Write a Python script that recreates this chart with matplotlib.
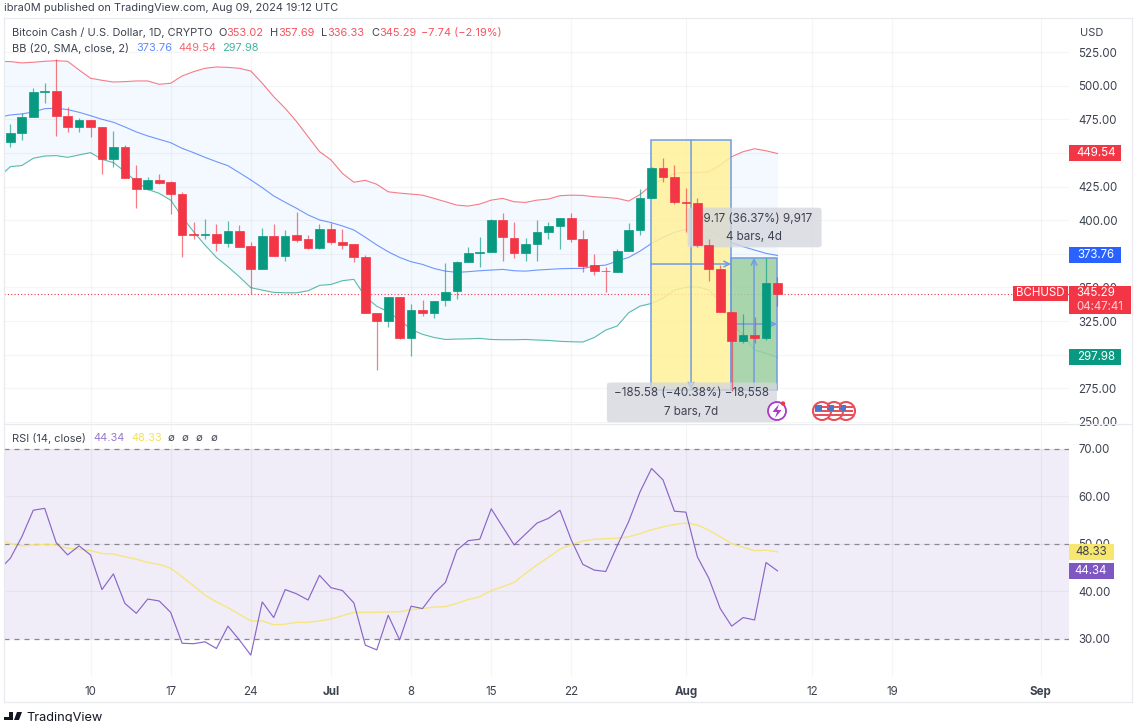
"""
BCH/USD daily chart with Bollinger bands and RSI pane, TradingView look.
"""

import numpy as np
import pandas as pd
import matplotlib
matplotlib.use('Agg')
import matplotlib.pyplot as plt
from matplotlib.patches import Rectangle, FancyBboxPatch, Circle, Polygon
from matplotlib.transforms import Affine2D

plt.rcParams['font.family'] = ['Inter', 'DejaVu Sans']

# ── data ──
START = '2024-06-03'

opens = [458.1, 464.8, 476.7, 495.3, 496.0, 477.4, 469.2, 474.4, 469.2, 445.4,
         454.4, 431.3, 423.1, 429.8, 428.3, 419.4, 389.6, 389.0, 389.7, 383.0,
         391.9, 380.8, 363.7, 388.2, 373.3, 389.0, 386.0, 379.3, 393.4, 383.7,
         382.2, 372.6, 331.0, 325.0, 342.8, 312.4, 333.2, 331.0, 340.6, 347.3,
         368.6, 375.8, 376.5, 400.1, 386.9, 375.3, 382.2, 391.4, 395.6, 401.3,
         385.9, 366.6, 362.4, 361.7, 377.0, 392.7, 416.7, 439.0, 432.3, 413.7,
         413.0, 381.5, 363.9, 332.0, 310.1, 314.6, 312.6, 353.02]
highs = [471.5, 479.6, 498.2, 502.0, 519.8, 484.1, 475.9, 474.4, 469.2, 466.3,
         455.9, 441.0, 432.0, 434.3, 429.0, 420.9, 398.6, 400.8, 397.1, 399.4,
         396.4, 383.7, 394.1, 397.1, 392.7, 406.0, 389.0, 397.1, 397.9, 393.4,
         382.2, 374.1, 331.0, 342.8, 342.8, 337.6, 340.6, 339.9, 367.9, 369.6,
         379.7, 387.7, 400.6, 405.0, 398.8, 386.9, 400.1, 398.8, 401.5, 405.0,
         392.6, 374.8, 364.9, 378.5, 398.1, 422.9, 439.5, 445.9, 441.0, 423.6,
         416.7, 385.7, 366.6, 332.0, 330.2, 327.7, 371.6, 357.69]
lows = [454.4, 459.6, 476.7, 487.0, 462.5, 465.5, 465.5, 461.8, 434.3, 439.5,
        431.3, 409.0, 422.4, 426.9, 404.6, 372.6, 386.0, 386.0, 377.0, 380.0,
        380.0, 345.0, 363.7, 373.3, 369.6, 383.7, 378.5, 378.5, 382.2, 378.5,
        368.9, 331.0, 288.6, 320.5, 311.6, 299.0, 328.7, 327.2, 336.4, 341.6,
        368.6, 364.9, 376.5, 369.8, 372.1, 369.8, 369.8, 385.9, 378.5, 383.5,
        361.2, 359.2, 346.8, 361.7, 377.0, 389.0, 416.7, 428.6, 412.0, 391.4,
        380.3, 355.0, 332.0, 273.0, 308.4, 308.4, 310.9, 336.33]
closes = [464.8, 476.7, 495.3, 496.0, 477.4, 469.2, 474.4, 469.2, 445.4, 454.4,
          431.3, 423.1, 429.8, 427.6, 419.4, 388.9, 388.9, 389.7, 383.0, 391.9,
          380.0, 363.7, 388.2, 373.3, 388.2, 385.2, 379.3, 393.4, 383.7, 381.5,
          372.6, 331.0, 325.0, 342.8, 312.4, 333.2, 331.0, 339.9, 346.8, 368.6,
          375.8, 376.3, 400.1, 387.2, 375.3, 382.2, 391.4, 395.6, 401.3, 385.9,
          366.1, 362.4, 361.9, 377.0, 392.6, 416.7, 439.0, 432.3, 413.7, 413.1,
          381.5, 363.9, 332.0, 310.1, 314.6, 312.6, 353.0, 345.29]

# line series start one day earlier than the candles (Jun 2)
bb_upper = [518.0, 517.9, 516.9, 517.4, 518.1, 518.6, 518.1, 511.7, 505.5, 504.0,
            502.7, 503.0, 503.5, 503.5, 501.0, 501.8, 507.2, 510.4, 512.9, 513.9,
            513.6, 512.9, 510.9, 501.8, 491.8, 483.2, 473.3, 462.1, 451.0, 444.8,
            434.8, 428.2, 429.6, 426.7, 421.1, 420.1, 419.4, 418.6, 416.2, 413.7,
            411.2, 410.5, 412.0, 414.9, 416.2, 413.7, 413.2, 414.9, 415.7, 418.2,
            418.6, 418.4, 417.4, 416.9, 416.2, 414.2, 419.1, 426.1, 430.3, 434.8,
            435.5, 435.3, 436.0, 441.0, 447.2, 450.9, 453.1, 451.6, 449.54]
bb_basis = [476.5, 478.2, 479.0, 480.4, 482.9, 483.2, 482.2, 480.2, 477.7, 475.0,
            472.8, 469.3, 465.6, 462.6, 460.1, 457.6, 453.4, 450.2, 446.7, 443.5,
            440.5, 435.3, 429.9, 424.2, 418.0, 413.3, 408.8, 403.9, 400.2, 398.2,
            395.7, 392.7, 387.3, 381.6, 376.5, 372.3, 369.1, 367.1, 364.1, 362.1,
            361.2, 361.7, 362.4, 362.9, 363.4, 362.4, 362.1, 362.9, 363.4, 363.9,
            364.1, 364.1, 365.9, 366.6, 369.6, 372.3, 377.0, 382.7, 387.2, 390.9,
            393.2, 393.2, 392.7, 388.2, 383.2, 380.3, 377.8, 375.3, 373.76]
bb_lower = [432.0, 439.8, 440.6, 446.0, 447.7, 448.0, 446.7, 448.5, 450.2, 445.2,
            442.8, 436.1, 428.6, 422.9, 419.9, 414.9, 402.5, 391.4, 381.5, 372.3,
            365.4, 357.9, 349.8, 348.0, 346.3, 346.0, 346.0, 347.5, 351.5, 352.2,
            355.0, 356.0, 343.0, 336.0, 331.9, 325.7, 318.8, 315.1, 312.8, 311.3,
            311.6, 311.8, 312.1, 311.3, 311.1, 311.1, 311.3, 310.9, 310.6, 309.9,
            309.6, 309.4, 312.8, 318.3, 321.3, 331.2, 336.1, 338.1, 341.9, 348.0,
            350.0, 350.5, 348.0, 339.4, 323.3, 314.6, 303.4, 301.0, 297.98]
rsi = [44.5, 47.0, 51.5, 57.1, 57.5, 50.3, 47.7, 49.6, 47.7, 40.4,
       43.7, 37.5, 35.4, 38.4, 38.0, 35.6, 29.1, 29.0, 29.4, 28.0,
       32.7, 29.8, 26.6, 37.8, 34.5, 40.4, 39.5, 38.2, 43.4, 40.8,
       40.2, 37.6, 28.7, 27.7, 35.0, 29.8, 36.9, 36.4, 39.6, 41.9,
       48.7, 50.7, 51.0, 57.4, 53.6, 49.8, 52.1, 54.4, 55.4, 57.1,
       50.8, 45.7, 44.5, 44.2, 49.6, 54.7, 61.0, 65.9, 63.5, 56.9,
       56.7, 47.3, 42.8, 36.4, 32.7, 34.5, 34.0, 46.1, 44.34]
rsi_ma = [51.0, 50.1, 49.6, 49.8, 49.9, 49.8, 49.1, 48.9, 48.6, 48.0,
          47.9, 47.3, 46.8, 46.1, 45.7, 44.9, 43.1, 41.2, 39.2, 37.8,
          36.6, 35.2, 33.8, 33.8, 33.0, 33.1, 33.5, 33.5, 33.8, 34.2,
          34.9, 35.6, 35.6, 35.6, 35.7, 35.7, 36.2, 36.4, 36.7, 36.8,
          37.5, 38.3, 38.9, 40.2, 41.0, 41.9, 43.8, 45.6, 47.2, 48.9,
          49.9, 50.6, 51.0, 51.1, 51.2, 51.5, 52.2, 53.0, 53.6, 54.1,
          54.4, 54.0, 52.9, 51.5, 50.1, 49.3, 48.6, 48.7, 48.33]

price_ticks = [250, 275, 300, 325, 350, 375, 400, 425, 450, 475, 500, 525]
price_labels = ['250.00', '275.00', '', '325.00', '350.00', '', '400.00', '425.00',
                '', '475.00', '500.00', '525.00']
rsi_ticks = [30, 40, 50, 60, 70]
rsi_labels = ['30.00', '40.00', '50.00', '60.00', '70.00']
time_ticks = ['2024-06-10', '2024-06-17', '2024-06-24', '2024-07-01', '2024-07-08',
              '2024-07-15', '2024-07-22', '2024-08-01', '2024-08-12', '2024-08-19',
              '2024-09-01']
time_labels = ['10', '17', '24', 'Jul', '8', '15', '22', 'Aug', '12', '19', 'Sep']

# colours
RED = '#f23645'
GREEN = '#089981'
BLUE = '#2962ff'
PURPLE = '#7e57c2'
BOX_EDGE = '#6f9ce6'
TEXT = '#3d4250'
W, H = 1137, 722

fig = plt.figure(figsize=(W / 100, H / 100), dpi=100, facecolor='white')
px_trans = Affine2D().scale(1 / W, 1 / H) + fig.transFigure


def axes_px(x0, y0, x1, y1):
    return fig.add_axes([x0 / W, 1 - y1 / H, (x1 - x0) / W, (y1 - y0) / H])


def label(x, y, s, color=TEXT, size=7.9, ha='left', **kw):
    return fig.text(x / W, 1 - y / H, s, color=color, fontsize=size, ha=ha, va='center', **kw)


def badge(x0, y0, x1, y1, color):
    fig.add_artist(Rectangle((x0, H - y1), x1 - x0, y1 - y0, transform=px_trans,
                             facecolor=color, edgecolor='none', zorder=6))


def fig_circle(x, y, r, **kw):
    return fig.add_artist(Circle((x, H - y), r, transform=px_trans, **kw))


ax = axes_px(4, 18, 1069, 423)
ax_rsi = axes_px(4, 424, 1069, 676)
ax.set_zorder(1)
ax_rsi.set_zorder(2)

days = np.arange(len(closes))
line_days = np.arange(-1, len(closes))
tick_pos = [(pd.Timestamp(t) - pd.Timestamp(START)).days for t in time_ticks]

for a in (ax, ax_rsi):
    a.set_xlim(-0.555, 92.46)
    a.spines[:].set_visible(False)
    a.yaxis.tick_right()
    a.set_xticks(tick_pos)
    a.grid(True, color='#000000', alpha=0.04, lw=0.8, zorder=1.5)
    a.set_axisbelow(False)
    a.tick_params(length=0, labelsize=8.3, labelcolor=TEXT, pad=6.5)

# ── price pane ──
ax.set_ylim(249.2, 550.3)
ax.set_yticks(price_ticks)
ax.set_yticklabels(price_labels)
ax.tick_params(axis='x', labelbottom=False)

ax.fill_between(line_days, bb_lower, bb_upper, color='#2196f3', alpha=0.05, lw=0, zorder=1)
ax.plot(line_days, bb_upper, color=RED, lw=0.8, alpha=0.65, zorder=2)
ax.plot(line_days, bb_basis, color=BLUE, lw=0.8, alpha=0.65, zorder=2)
ax.plot(line_days, bb_lower, color=GREEN, lw=0.8, alpha=0.65, zorder=2)

ax.axhline(closes[-1], color=RED, lw=0.8, ls=(0, (1, 2)), zorder=2.5)

# long / short position boxes
short_top, short_bottom = 459.6, 274.0
long_top = 372.0
ax.add_patch(Rectangle((55.95, short_bottom), 7.0, short_top - short_bottom, facecolor='#fff19a',
                       alpha=0.86, edgecolor='none', zorder=3))
ax.add_patch(Rectangle((62.95, short_bottom), 4.0, long_top - short_bottom, facecolor='#9ccf9f',
                       alpha=0.85, edgecolor='none', zorder=3))
ax.add_patch(Rectangle((55.95, short_bottom), 7.0, short_top - short_bottom, fill=False,
                       edgecolor=BOX_EDGE, lw=1.1, zorder=3.2))
ax.add_patch(Rectangle((62.95, short_bottom), 4.0, long_top - short_bottom, fill=False,
                       edgecolor=BOX_EDGE, lw=1.1, zorder=3.2))
arrow = dict(arrowstyle='->', color=BOX_EDGE, lw=1.1, shrinkA=0, shrinkB=0)
ax.annotate('', xy=(62.95, 367.4), xytext=(55.95, 367.4), arrowprops=arrow, zorder=3.3)
ax.annotate('', xy=(59.45, short_bottom), xytext=(59.45, short_top), arrowprops=arrow, zorder=3.3)
ax.annotate('', xy=(66.95, 322.8), xytext=(62.95, 322.8), arrowprops=arrow, zorder=3.3)
ax.annotate('', xy=(64.95, long_top), xytext=(64.95, short_bottom), arrowprops=arrow, zorder=3.3)

# measure labels (sit under the candles)
ax.add_patch(FancyBboxPatch((59.25, 380.3), 11.5, 28.5, boxstyle='round,pad=0.1,rounding_size=0.3',
                            mutation_aspect=5.0, facecolor='#d5d7dd', alpha=0.78,
                            edgecolor='none', zorder=3.6))
ax.add_patch(FancyBboxPatch((52.2, 250.2), 14.65, 28.6, boxstyle='round,pad=0.1,rounding_size=0.3',
                            mutation_aspect=5.0, facecolor='#d5d7dd', alpha=0.78,
                            edgecolor='none', zorder=3.6))
ax.text(64.95, 401.0, '99.17 (36.37%) 9,917', ha='center', va='center', color=TEXT,
        fontsize=8.4, zorder=3.7)
ax.text(64.95, 387.5, '4 bars, 4d', ha='center', va='center', color=TEXT,
        fontsize=8.4, zorder=3.7)
ax.text(59.45, 271.5, '\u2212185.58 (\u221240.38%) \u221218,558', ha='center', va='center',
        color=TEXT, fontsize=8.4, zorder=3.7)
ax.text(59.45, 257.3, '7 bars, 7d', ha='center', va='center', color=TEXT,
        fontsize=8.4, zorder=3.7)

# candles
for d, o, h, l, c in zip(days, opens, highs, lows, closes):
    col = GREEN if c >= o else RED
    ax.vlines(d, l, h, color=col, lw=0.9, alpha=0.65, zorder=5)
    ax.bar(d, abs(c - o), bottom=min(o, c), width=0.76, color=col, edgecolor=col, lw=0.5, zorder=5.1)

# event icons under the last bars
fig_circle(777, 411, 9, facecolor='white', edgecolor='#a93ac9', lw=1.3, zorder=7)
fig.add_artist(Polygon([(779, H - 404), (772.5, H - 412), (777, H - 412), (775, H - 418),
                        (781.5, H - 410), (777, H - 410)], transform=px_trans,
                       facecolor='#a93ac9', edgecolor='none', zorder=8))
fig_circle(783, 403.5, 2.2, facecolor=RED, edgecolor='none', zorder=8)
for xf in (846, 834, 822):
    fig_circle(xf, 411, 9, facecolor='white', edgecolor='#e8505b', lw=1.5, zorder=7)
    for yb in (407, 411, 415):
        fig.add_artist(Rectangle((xf - 7, H - yb - 0.8), 14, 1.6, transform=px_trans,
                                 facecolor='#e8505b', edgecolor='none', zorder=8))
    fig.add_artist(Rectangle((xf - 7, H - 411), 7, 6, transform=px_trans,
                             facecolor='#4a78c9', edgecolor='none', zorder=8))

# ── RSI pane ──
ax_rsi.set_facecolor('white')
ax_rsi.set_ylim(22.2, 75.26)
ax_rsi.set_yticks(rsi_ticks)
ax_rsi.set_yticklabels(rsi_labels)
ax_rsi.set_xticklabels(time_labels)
ax_rsi.tick_params(axis='x', pad=7, labelsize=8.3)
for t, s in zip(ax_rsi.get_xticklabels(), time_labels):
    if s in ('Jul', 'Aug', 'Sep'):
        t.set_fontweight('bold')
ax_rsi.axhspan(30, 70, facecolor=PURPLE, alpha=0.1, lw=0, zorder=1)
for level in (30, 50, 70):
    ax_rsi.axhline(level, color='#8f8b99', lw=0.9, ls=(0, (4, 4)), zorder=2)
ax_rsi.plot(line_days, rsi_ma, color='#f5e56b', lw=1.0, alpha=0.85, zorder=3)
ax_rsi.plot(line_days, rsi, color=PURPLE, lw=0.85, alpha=0.9, zorder=4)

# ── frame lines ──
for (x0, y0, x1, y1) in [(4, 18, 1132, 18), (4, 423.5, 1132, 423.5), (4, 702, 1132, 702),
                         (4, 18, 4, 702), (1132, 18, 1132, 702)]:
    fig.add_artist(plt.Line2D([x0 / W, x1 / W], [1 - y0 / H, 1 - y1 / H], color='#e9eaee',
                              lw=0.9, zorder=5))

# ── header texts ──
label(4, 8, 'ibra0M published on TradingView.com, Aug 09, 2024 19:12 UTC', size=7.9)
label(12, 33, 'Bitcoin Cash / U.S. Dollar, 1D, CRYPTO')
for x, s, c in [(218, 'O', TEXT), (226.5, '353.02', RED), (270, 'H', TEXT), (278.5, '357.69', RED),
                (320.5, 'L', TEXT), (327, '336.33', RED), (371, 'C', TEXT), (379, '345.29', RED),
                (421, '\u22127.74 (\u22122.19%)', RED)]:
    label(x, 33, s, color=c, alpha=0.85 if c == RED else 1)
label(12, 48, 'BB (20, SMA, close, 2)')
label(136, 48, f'{bb_basis[-1]:.2f}', color=BLUE, alpha=0.75)
label(178, 48, f'{bb_upper[-1]:.2f}', color=RED, alpha=0.75)
label(222, 48, f'{bb_lower[-1]:.2f}', color=GREEN, alpha=0.75)
label(12, 438, 'RSI (14, close)')
label(93, 438, f'{rsi[-1]:.2f}', color=PURPLE, alpha=0.8)
label(131, 438, f'{rsi_ma[-1]:.2f}', color='#f3e25f')
for x in (171, 185, 199, 214):
    label(x, 438, '\u2205', ha='center', size=7.2)
label(1080, 33, 'USD')

# ── price scale badges ──
badge_txt = dict(color='white', ha='center', zorder=7, size=8.3)
for y0, y1, val, col in [(145, 161, bb_upper[-1], RED), (247, 263, bb_basis[-1], BLUE),
                         (349, 365, bb_lower[-1], GREEN)]:
    badge(1069, y0, 1121, y1, col)
    label(1096, (y0 + y1) / 2, f'{val:.2f}', **badge_txt)
badge(1013, 286, 1068, 301, RED)
label(1040.5, 293.5, 'BCHUSD', **badge_txt)
badge(1069, 286, 1131, 314, RED)
label(1096, 293.5, f'{closes[-1]:.2f}', **badge_txt)
label(1100, 306.5, '04:47:41', color='#fbd3d7', ha='center', zorder=7, size=8.3)
badge(1069, 544, 1114, 560, '#f7e76e')
label(1091, 552, f'{rsi_ma[-1]:.2f}', color='#3d4250', ha='center', zorder=7, size=8.3)
badge(1069, 563, 1114, 579, PURPLE)
label(1091, 571, f'{rsi[-1]:.2f}', color='white', ha='center', zorder=7, size=8.3)

# ── footer logo ──
fig.add_artist(Polygon([(4, 2), (13, 2), (13, 10), (9, 10), (9, 5), (4, 5)],
                       transform=px_trans, facecolor='#131722', edgecolor='none'))
fig.add_artist(Polygon([(14, 2), (17, 10), (22, 10), (19, 2)], transform=px_trans,
                       facecolor='#131722', edgecolor='none'))
label(26, 718, 'TradingView', color='#131722', size=9.2)

fig.savefig('out.png', dpi=100)
